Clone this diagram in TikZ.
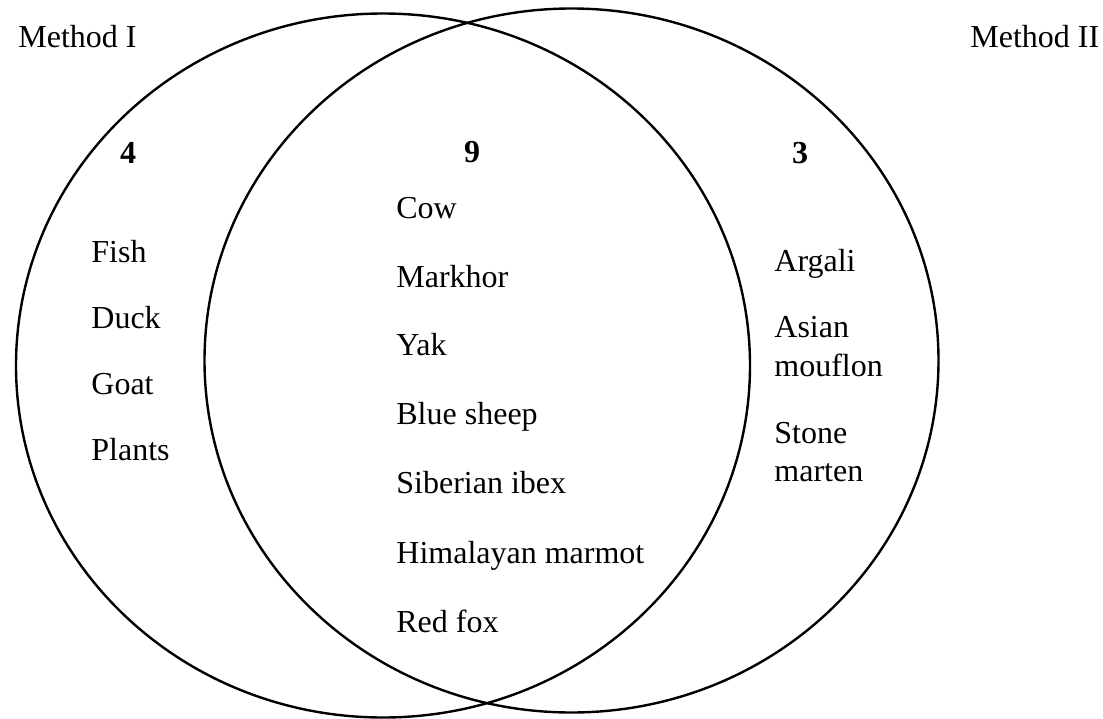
\documentclass[tikz,border=0pt]{standalone}
\usepackage{fontspec}
\setmainfont{Liberation Serif}
\usetikzlibrary{shapes.geometric}
\begin{document}
\begin{tikzpicture}[x=0.5pt,y=-0.5pt,
  setring/.style={draw, ellipse, line width=1.2pt, inner sep=0pt, outer sep=0pt,
                  minimum width=367pt, minimum height=352pt},
  lbl/.style={anchor=base west, inner sep=0pt, font=\fontsize{16pt}{19.5pt}\selectfont},
  cnt/.style={anchor=base, inner sep=0pt, font=\fontsize{16pt}{19.5pt}\selectfont\bfseries}]
\useasboundingbox (0,0) rectangle (1103,718);
% the two sets
\node[setring] (setI)  at (383,365.5) {};
\node[setring] (setII) at (571.5,360.5) {};
% titles
\node[lbl] (titleI)  at (18,47)  {Method I};
\node[lbl] (titleII) at (970,47) {Method II};
% counts
\node[cnt] (nI)    at (128,163) {4};
\node[cnt] (nboth) at (472,162) {9};
\node[cnt] (nII)   at (800,163) {3};
% only method I
\node[lbl] (fish)   at (91,262) {Fish};
\node[lbl] (duck)   at (91,328) {Duck};
\node[lbl] (goat)   at (91,394) {Goat};
\node[lbl] (plants) at (91,460) {Plants};
% both
\node[lbl] (cow)     at (396,218) {Cow};
\node[lbl] (markhor) at (396,287) {Markhor};
\node[lbl] (yak)     at (396,355) {Yak};
\node[lbl] (bsheep)  at (396,424) {Blue sheep};
\node[lbl] (ibex)    at (396,493) {Siberian ibex};
\node[lbl] (marmot)  at (396,563) {Himalayan marmot};
\node[lbl] (fox)     at (396,632) {Red fox};
% only method II
\node[lbl] (argali)   at (774,271) {Argali};
\node[lbl] (asian)    at (774,337) {Asian};
\node[lbl] (mouflon)  at (774,376) {mouflon};
\node[lbl] (stone)    at (774,443) {Stone};
\node[lbl] (marten)   at (774,481) {marten};
\end{tikzpicture}
\end{document}
